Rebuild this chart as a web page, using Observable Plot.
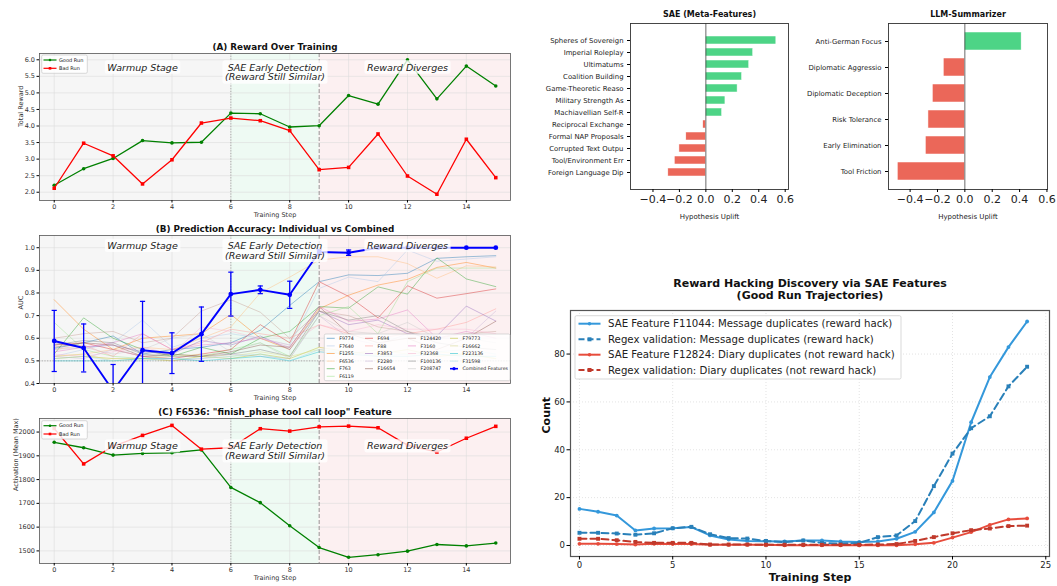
<!DOCTYPE html>
<html><head><meta charset="utf-8">
<script src="https://cdn.jsdelivr.net/npm/d3@7"></script>
<script src="https://cdn.jsdelivr.net/npm/@observablehq/plot@0.6"></script>
<style>
body{margin:0;background:#fff;}
#root{position:relative;width:1057px;height:586px;overflow:hidden;font-family:"DejaVu Sans",sans-serif;}
#root svg{position:absolute;overflow:visible;}
</style></head><body><div id="root"></div>
<script>
// ---------- DATA ----------
const steps = d3.range(16);
const stepTicks = [0, 2, 4, 6, 8, 10, 12, 14];

const rewardGood = [2.21, 2.71, 3.02, 3.56, 3.49, 3.51, 4.39, 4.37, 3.97, 4.01, 4.92, 4.66, 6.0, 4.82, 5.81, 5.21];
const rewardBad  = [2.12, 3.48, 3.10, 2.25, 2.98, 4.09, 4.24, 4.16, 3.86, 2.68, 2.75, 3.76, 2.49, 1.94, 3.60, 2.44];

const actGood = [1957, 1934, 1903, 1910, 1913, 1925, 1767, 1703, 1606, 1514, 1473, 1484, 1499, 1527, 1521, 1533];
const actBad  = [2015, 1866, 1940, 1986, 2028, 1928, 1934, 2014, 2004, 2022, 2025, 2018, 1945, 1916, 1974, 2024];

const combinedAUC = [0.588, 0.557, 0.368, 0.547, 0.534, 0.618, 0.795, 0.814, 0.792, 0.981, 0.978, 1.0, 1.0, 1.0, 1.0, 1.0];
const combinedErr = [0.135, 0.106, 0.116, 0.216, 0.09, 0.12, 0.097, 0.017, 0.06, 0.01, 0.012, 0, 0, 0, 0, 0];

const featureNames = ["F9774","F7640","F1255","F6536","F763","F6119","F694","F88","F3853","F2280","F16654","F124420","F3160","F32368","F100136","F208747","F79773","F16662","F223136","F31598"];
const featureColors = ["#1f77b4","#aec7e8","#ff7f0e","#ffbb78","#2ca02c","#98df8a","#d62728","#ff9896","#9467bd","#c5b0d5","#8c564b","#c49c94","#e377c2","#f7b6d2","#7f7f7f","#c7c7c7","#bcbd22","#dbdb8d","#17becf","#9edae5"];
const featureAUC = [
  [0.555,0.58,0.61,0.53,0.55,0.56,0.58,0.635,0.745,0.85,0.88,0.877,0.887,0.953,0.96,0.965],
  [0.52,0.55,0.58,0.68,0.56,0.6,0.62,0.6,0.57,0.82,0.87,0.85,0.99,0.94,0.95,0.96],
  [0.77,0.64,0.55,0.6,0.61,0.62,0.705,0.6,0.55,0.73,0.79,0.835,0.86,0.913,0.935,0.91],
  [0.52,0.53,0.55,0.56,0.55,0.6,0.65,0.8,0.87,0.945,0.96,0.96,0.93,0.865,0.92,0.915],
  [0.53,0.69,0.6,0.55,0.52,0.56,0.53,0.6,0.63,0.74,0.733,0.827,0.795,0.955,0.862,0.828],
  [0.67,0.55,0.52,0.51,0.53,0.52,0.55,0.58,0.52,0.7,0.74,0.62,0.85,0.91,0.91,0.91],
  [0.57,0.58,0.55,0.52,0.51,0.53,0.55,0.66,0.58,0.85,0.785,0.69,0.832,0.777,0.797,0.818],
  [0.55,0.57,0.52,0.62,0.55,0.58,0.64,0.62,0.6,0.66,0.62,0.6,0.62,0.64,0.67,0.73],
  [0.58,0.56,0.57,0.54,0.53,0.59,0.57,0.61,0.55,0.72,0.66,0.68,0.62,0.61,0.742,0.676],
  [0.52,0.51,0.55,0.52,0.5,0.51,0.53,0.52,0.51,0.7,0.6,0.57,0.62,0.6,0.6,0.72],
  [0.56,0.58,0.57,0.52,0.53,0.52,0.54,0.57,0.56,0.74,0.62,0.58,0.6,0.55,0.6,0.675],
  [0.6,0.62,0.63,0.58,0.6,0.72,0.77,0.715,0.6,0.72,0.7,0.65,0.63,0.6,0.62,0.63],
  [0.54,0.56,0.58,0.62,0.55,0.57,0.58,0.6,0.56,0.74,0.675,0.685,0.725,0.6,0.63,0.6],
  [0.53,0.52,0.54,0.56,0.53,0.65,0.63,0.6,0.57,0.66,0.63,0.66,0.64,0.64,0.64,0.62],
  [0.57,0.59,0.58,0.53,0.52,0.52,0.53,0.55,0.52,0.72,0.68,0.7,0.63,0.58,0.56,0.55],
  [0.55,0.56,0.53,0.55,0.6,0.62,0.54,0.58,0.51,0.7,0.63,0.62,0.67,0.6,0.6,0.58],
  [0.51,0.52,0.51,0.51,0.5,0.52,0.51,0.53,0.51,0.56,0.54,0.53,0.55,0.52,0.53,0.51],
  [0.52,0.53,0.5,0.51,0.52,0.53,0.52,0.54,0.52,0.55,0.53,0.55,0.53,0.54,0.53,0.51],
  [0.5,0.5,0.5,0.51,0.51,0.5,0.51,0.52,0.5,0.54,0.53,0.52,0.52,0.53,0.52,0.52],
  [0.51,0.52,0.5,0.5,0.51,0.51,0.52,0.53,0.5,0.55,0.54,0.52,0.53,0.54,0.55,0.53]
];

const phaseStart = [-0.5, 6, 9];
const phaseEnd = [6, 9, 15.5];
const phaseFill = ["#f6f6f6", "#eefaf3", "#fcf0f1"];
const annotX = [3, 7.5, 12];
const annotText = ["Warmup Stage", "SAE Early Detection\n(Reward Still Similar)", "Reward Diverges"];

const saeLabels = ["Spheres of Sovereign","Imperial Roleplay","Ultimatums","Coalition Building","Game-Theoretic Reaso","Military Strength As","Machiavellian Self-R","Reciprocal Exchange","Formal NAP Proposals","Corrupted Text Outpu","Tool/Environment Err","Foreign Language Dip"];
const saeUplift = [0.533, 0.358, 0.328, 0.274, 0.24, 0.148, 0.123, -0.02, -0.148, -0.2, -0.235, -0.284];
const llmLabels = ["Anti-German Focus","Diplomatic Aggressio","Diplomatic Deception","Risk Tolerance","Early Elimination","Tool Friction"];
const llmUplift = [0.415, -0.154, -0.234, -0.266, -0.285, -0.49];
const upliftTicks = [-0.4, -0.2, 0, 0.2, 0.4, 0.6];

const hackSteps = d3.range(25);
const saeMsgDup   = [15.3,14.1,12.5,6.3,7.1,7.2,7.7,4.2,2.5,1.9,1.8,1.7,2.1,2.1,1.7,1.5,1.7,2.8,5.7,13.8,27,51.5,70.4,82.9,93.6];
const regexMsgDup = [5.3,5.3,5.0,4.5,5.1,7.2,7.8,4.7,3.1,2.9,1.9,1.4,2.1,1.1,0.8,1.1,3.5,4.2,10.2,24.8,38.4,49,54,66.5,74.7];
const saeDiaryDup   = [0.7,0.7,0.6,0.4,0.7,0.6,0.6,0.3,0.3,0.3,0.3,0.1,0.1,0.1,0.1,0.1,0.1,0.1,0.5,1.1,3.3,5.6,8.6,10.9,11.3];
const regexDiaryDup = [2.8,2.8,2.2,1.5,1.1,1.1,1.1,0.4,0.4,0.4,0.3,0.3,0.3,0.3,0.3,0.3,0.4,0.6,1.9,3.5,5.1,6.4,7.1,8.1,8.3];
const hackSeriesNames = ["SAE Feature F11044: Message duplicates (reward hack)","Regex validation: Message duplicates (reward hack)","SAE Feature F12824: Diary duplicates (not reward hack)","Regex validation: Diary duplicates (not reward hack)"];
const hackColors = ["#3498db","#2980b9","#e74c3c","#c0392b"];

// ---------- HELPERS ----------
const root = document.getElementById("root");
const FONT = "DejaVu Sans";
function place(svg, left, top) { svg.style.left = left + "px"; svg.style.top = top + "px"; root.appendChild(svg); return svg; }
const capSymbol = {draw(ctx, size) { const w = Math.sqrt(size / Math.PI); ctx.moveTo(-w, 0); ctx.lineTo(w, 0); }};
const phases = phaseStart.map((s, i) => ({start: s, end: phaseEnd[i], fill: phaseFill[i]}));
const annots = annotX.map((x, i) => ({x, text: annotText[i]}));

function addLegend(svg, box, entries, fs, sampleLen, gap) {
  const g = d3.select(svg).append("g").attr("font-family", FONT).attr("text-anchor", "start");
  g.append("rect").attr("x", box.x).attr("y", box.y).attr("width", box.w).attr("height", box.h)
    .attr("rx", 1.5).attr("fill", "white").attr("fill-opacity", 0.85).attr("stroke", "#c8c8c8").attr("stroke-width", 0.7);
  for (const e of entries) {
    g.append("line").attr("x1", e.x).attr("x2", e.x + sampleLen).attr("y1", e.y).attr("y2", e.y)
      .attr("stroke", e.color).attr("stroke-width", e.sw).attr("stroke-opacity", e.op ?? 1)
      .attr("stroke-dasharray", e.dash || null);
    const mx = e.x + sampleLen / 2;
    if (e.marker === "circle") g.append("circle").attr("cx", mx).attr("cy", e.y).attr("r", e.mr).attr("fill", e.color);
    if (e.marker === "square") g.append("rect").attr("x", mx - e.mr).attr("y", e.y - e.mr).attr("width", 2 * e.mr).attr("height", 2 * e.mr).attr("fill", e.color);
    g.append("text").attr("x", e.x + sampleLen + gap).attr("y", e.y).attr("dy", "0.35em").attr("text-anchor", "start")
      .attr("font-size", fs).attr("fill", "#222").text(e.label);
  }
}

// white rounded boxes behind the stage annotations (like matplotlib bbox)
function boxAnnotations(svg) {
  const firstLines = annotText.map(t => t.split("\n")[0]);
  d3.select(svg).selectAll("text").each(function () {
    const el = this;
    const first = el.querySelector("tspan") ? el.querySelector("tspan").textContent : el.textContent;
    if (!firstLines.includes(first)) return;
    const b = el.getBBox();
    const r = document.createElementNS("http://www.w3.org/2000/svg", "rect");
    r.setAttribute("x", b.x - 2.5); r.setAttribute("y", b.y - 1.2);
    r.setAttribute("width", b.width + 5); r.setAttribute("height", b.height + 2.4);
    r.setAttribute("rx", 2.5); r.setAttribute("fill", "white"); r.setAttribute("fill-opacity", 0.8);
    if (el.getAttribute("transform")) r.setAttribute("transform", el.getAttribute("transform"));
    el.parentNode.insertBefore(r, el);
  });
}

function leftPanel(o) {
  const svg = Plot.plot({
    width: 520, height: o.height,
    marginLeft: 39, marginRight: 10, marginTop: o.mt, marginBottom: o.mb,
    style: {fontFamily: FONT, overflow: "visible", background: "transparent"},
    x: {domain: [-0.5, 15.5]},
    y: {domain: o.yDomain},
    marks: [
      ...phases.map(p => Plot.rect([p], {x1: "start", x2: "end", fill: p.fill})),
      Plot.gridX(stepTicks, {stroke: "#dcdcdc", strokeOpacity: 1, strokeWidth: 0.6}),
      Plot.gridY(o.yTicks, {stroke: "#dcdcdc", strokeOpacity: 1, strokeWidth: 0.6}),
      Plot.ruleX([6], {stroke: "#9a9a9a", strokeDasharray: "1.2,1.5", strokeWidth: 0.8}),
      Plot.ruleX([9], {stroke: "#8a8a8a", strokeDasharray: "4,2", strokeWidth: 0.9}),
      ...o.marks,
      Plot.text(annots, {x: "x", y: () => o.annotY, text: "text", fontStyle: "italic", fontSize: 9.5, lineAnchor: "top", lineHeight: 1.05, fill: "#222"}),
      Plot.frame({stroke: "#555", strokeWidth: 0.8}),
      Plot.axisX(stepTicks, {tickSize: 2.5, tickPadding: 1.5, fontSize: 6.5, label: null, fill: "#333"}),
      Plot.axisY(o.yTicks, {tickSize: 2.5, tickPadding: 2, fontSize: 6.5, label: null, tickFormat: o.yFmt, fill: "#333"}),
      Plot.text(["Training Step"], {frameAnchor: "bottom", dy: 14.5, lineAnchor: "middle", fontSize: 6.5, fill: "#333"}),
      Plot.text([o.yLabel], {frameAnchor: "left", dx: o.ylDx, rotate: -90, fontSize: 6.5, fill: "#333"}),
      Plot.text([o.title], {frameAnchor: "top", dy: -6, lineAnchor: "middle", fontSize: 8.8, fontWeight: "bold", fill: "#111"})
    ]
  });
  place(svg, 0, o.top);
  boxAnnotations(svg);
  return svg;
}

function runMarks(good, bad) {
  const rows = steps.map(s => ({step: s, good: good[s], bad: bad[s]}));
  return [
    Plot.line(rows, {x: "step", y: "good", stroke: "green", strokeWidth: 1.3}),
    Plot.dot(rows, {x: "step", y: "good", r: 1.8, fill: "green"}),
    Plot.line(rows, {x: "step", y: "bad", stroke: "red", strokeWidth: 1.3}),
    Plot.dot(rows, {x: "step", y: "bad", r: 2, symbol: "square", fill: "red"})
  ];
}
function runLegend(svg, y0) {
  addLegend(svg, {x: 41.7, y: y0, w: 45.6, h: 18.3}, [
    {x: 43.5, y: y0 + 5, color: "green", sw: 1.2, marker: "circle", mr: 1.3, label: "Good Run"},
    {x: 43.5, y: y0 + 13.3, color: "red", sw: 1.2, marker: "square", mr: 1.3, label: "Bad Run"}
  ], 5, 13, 2.5);
}

// ---------- PANEL A ----------
const svgA = leftPanel({top: 30, height: 190, mt: 23, mb: 20, yDomain: [1.75, 6.19],
  yTicks: d3.range(2, 6.01, 0.5), yFmt: d3.format(".1f"), yLabel: "Total Reward", ylDx: -19,
  title: "(A) Reward Over Training", annotY: 5.89, marks: runMarks(rewardGood, rewardBad)});
runLegend(svgA, 25);

// ---------- PANEL B ----------
const combRows = steps.map(s => ({step: s, auc: combinedAUC[s], err: combinedErr[s]}));
const bMarks = [
  Plot.ruleY([0.5], {stroke: "#999", strokeDasharray: "1.2,1.5", strokeWidth: 0.8}),
  ...featureAUC.map((vals, i) => Plot.line(steps, {x: s => s, y: s => vals[s], stroke: featureColors[i], strokeOpacity: 0.55, strokeWidth: 0.8, clip: true})),
  Plot.ruleX(combRows.filter(d => d.err > 0), {x: "step", y1: d => d.auc - d.err, y2: d => d.auc + d.err, stroke: "blue", strokeWidth: 1.3, clip: true}),
  Plot.dot(combRows.filter(d => d.err > 0), {x: "step", y: d => d.auc + d.err, symbol: capSymbol, r: 2.6, stroke: "blue", strokeWidth: 1.2, clip: true}),
  Plot.dot(combRows.filter(d => d.err > 0), {x: "step", y: d => d.auc - d.err, symbol: capSymbol, r: 2.6, stroke: "blue", strokeWidth: 1.2, clip: true}),
  Plot.line(combRows, {x: "step", y: "auc", stroke: "blue", strokeWidth: 1.9, clip: true}),
  Plot.dot(combRows, {x: "step", y: "auc", r: 2.4, fill: "blue", clip: true})
];
const svgB = leftPanel({top: 215, height: 185, mt: 20, mb: 17, yDomain: [0.4, 1.054],
  yTicks: d3.range(0.4, 1.001, 0.1), yFmt: d3.format(".1f"), yLabel: "AUC", ylDx: -19,
  title: "(B) Prediction Accuracy: Individual vs Combined", annotY: 1.026, marks: bMarks});
{
  const colX = [326.7, 365, 408, 450];
  const rowY0 = 123.3, rowStep = 7.6;
  const entries = [];
  const colOf = k => (k < 6 ? 0 : 1 + Math.floor((k - 6) / 5));
  const rowOf = k => (k < 6 ? k : (k - 6) % 5);
  featureNames.forEach((name, k) => entries.push({x: colX[colOf(k)], y: rowY0 + rowOf(k) * rowStep, color: featureColors[k], sw: 0.9, op: 0.6, label: name}));
  entries.push({x: colX[3], y: rowY0 + 4 * rowStep, color: "blue", sw: 1.6, marker: "circle", mr: 1.6, label: "Combined Features"});
  addLegend(svgB, {x: 324.3, y: 119, w: 185.7, h: 46.7}, entries, 4.7, 8, 4.5);
}

// ---------- PANEL C ----------
const svgC = leftPanel({top: 398, height: 188, mt: 20, mb: 23, yDomain: [1447, 2057],
  yTicks: d3.range(1500, 2001, 100), yFmt: d3.format("d"), yLabel: "Activation (Mean Max)", ylDx: -24,
  title: "(C) F6536: \"finish_phase tool call loop\" Feature", annotY: 1957, marks: runMarks(actGood, actBad)});
runLegend(svgC, 22.7);

// ---------- BAR PANELS ----------
function barPanel(o) {
  const rows = o.labels.map((l, i) => ({label: l, v: o.values[i]}));
  const svg = Plot.plot({
    width: o.width, height: 225, marginLeft: o.ml, marginRight: o.mr, marginTop: 23, marginBottom: 36,
    style: {fontFamily: FONT, overflow: "visible", background: "transparent"},
    x: {domain: o.xDomain},
    y: {domain: o.labels, paddingInner: 0.3, paddingOuter: o.po},
    color: {type: "identity"},
    marks: [
      Plot.barX(rows, {x: "v", y: "label", fill: d => (d.v >= 0 ? "#2ecc71" : "#e74c3c"), fillOpacity: 0.85, stroke: "white", strokeWidth: 0.5}),
      Plot.ruleX([0], {stroke: "#444", strokeWidth: 0.8}),
      Plot.frame({stroke: "#333", strokeWidth: 0.9}),
      Plot.axisX(upliftTicks, {tickFormat: d3.format(".1f"), fontSize: 11, tickSize: 3, tickPadding: 2.5, label: null, fill: "#222"}),
      Plot.axisY({fontSize: 6.9, tickSize: 3, tickPadding: 4, label: null, fill: "#222"}),
      Plot.text(["Hypothesis Uplift"], {frameAnchor: "bottom", dy: 27, lineAnchor: "middle", fontSize: 7, fill: "#222"}),
      Plot.text([o.title], {frameAnchor: "top", dy: -9.5, lineAnchor: "middle", fontSize: 8, fontWeight: "bold", fill: "#111"})
    ]
  });
  return place(svg, o.left, 0);
}
barPanel({left: 530, width: 280, ml: 100, mr: 22, labels: saeLabels, values: saeUplift, xDomain: [-0.57, 0.625], po: 0.585, title: "SAE (Meta-Features)"});
barPanel({left: 810, width: 247, ml: 78, mr: 10, labels: llmLabels, values: llmUplift, xDomain: [-0.558, 0.604], po: 0.285, title: "LLM-Summarizer"});

// ---------- REWARD HACKING PANEL ----------
{
  const series = [saeMsgDup, regexMsgDup, saeDiaryDup, regexDiaryDup];
  const dashed = [false, true, false, true];
  const marks = [
    Plot.gridX([0, 5, 10, 15, 20, 25], {stroke: "#bbb", strokeDasharray: "1,2", strokeOpacity: 0.6, strokeWidth: 0.7}),
    Plot.gridY([0, 20, 40, 60, 80], {stroke: "#bbb", strokeDasharray: "1,2", strokeOpacity: 0.6, strokeWidth: 0.7})
  ];
  series.forEach((vals, i) => {
    marks.push(Plot.line(hackSteps, {x: s => s, y: s => vals[s], stroke: hackColors[i], strokeWidth: 2, strokeDasharray: dashed[i] ? "7,4" : null}));
    marks.push(Plot.dot(hackSteps, {x: s => s, y: s => vals[s], fill: hackColors[i], r: dashed[i] ? 2.2 : 1.9, symbol: dashed[i] ? "square" : "circle"}));
  });
  marks.push(
    Plot.frame({stroke: "#555", strokeWidth: 1.2}),
    Plot.axisX([0, 5, 10, 15, 20, 25], {fontSize: 8.5, tickSize: 3.5, tickPadding: 1.5, label: null, fill: "#222"}),
    Plot.axisY([0, 20, 40, 60, 80], {fontSize: 8.5, tickSize: 3.5, tickPadding: 2, label: null, fill: "#222"}),
    Plot.text(["Training Step"], {frameAnchor: "bottom", dy: 21, lineAnchor: "middle", fontSize: 11, fontWeight: "bold", fill: "#111"}),
    Plot.text(["Count"], {frameAnchor: "left", dx: -24.3, rotate: -90, fontSize: 11, fontWeight: "bold", fill: "#111"}),
    Plot.text(["Reward Hacking Discovery via SAE Features\n(Good Run Trajectories)"], {frameAnchor: "top", dy: -21.2, lineAnchor: "middle", lineHeight: 1.12, fontSize: 11, fontWeight: "bold", fill: "#111"})
  );
  const svg = Plot.plot({
    width: 527, height: 316, marginLeft: 40, marginRight: 8, marginTop: 40, marginBottom: 30,
    style: {fontFamily: FONT, overflow: "visible", background: "transparent"},
    x: {domain: [-0.48, 25.2]}, y: {domain: [-4.6, 98.2]},
    marks
  });
  place(svg, 530, 270);
  const ys = [53.7, 69.3, 84.7, 100];
  addLegend(svg, {x: 45, y: 45.7, w: 326, h: 63.3}, hackSeriesNames.map((name, i) => ({
    x: 48.5, y: ys[i], color: hackColors[i], sw: 2, dash: dashed[i] ? "6,3" : null,
    marker: dashed[i] ? "square" : "circle", mr: dashed[i] ? 2 : 1.8, label: name
  })), 10.2, 22, 7.5);
}
</script></body></html>
